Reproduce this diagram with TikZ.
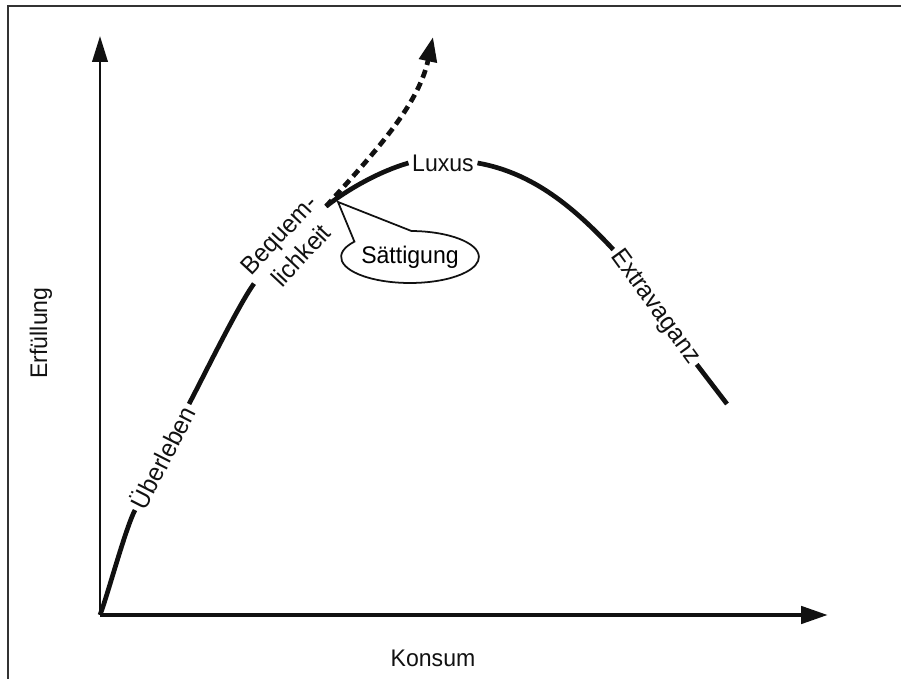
\documentclass[tikz,border=0pt]{standalone}
\usepackage{fontspec}
\setmainfont{Liberation Sans}[FakeStretch=0.96]
\usetikzlibrary{arrows.meta, positioning, shapes.geometric, shapes.callouts}
\definecolor{rim}{HTML}{333333}
\definecolor{ink}{HTML}{111111}
\tikzset{
  curve/.style={line width=4pt, draw=ink},
  axis/.style={-{Triangle[length=22pt,width=13pt]}, line width=2.3pt, draw=ink},
  baseaxis/.style={-{Triangle[length=23pt,width=14.5pt]}, line width=4pt, draw=ink},
  stage/.style={font=\fontsize{20.5}{23}\selectfont, text=ink, inner sep=3pt, align=center},
  slopedstage/.style={stage, font=\fontsize{21.5}{26}\selectfont},
  future/.style={-{Triangle[length=21pt,width=15pt]}, line width=4pt, draw=ink,
                 dash pattern=on 7pt off 4.5pt},
  bubble/.style={ellipse callout, draw=ink, line width=1.5pt, fill=white,
                 inner sep=0pt, minimum width=37.2mm, minimum height=15.6mm,
                 callout pointer arc=55, font=\fontsize{20.5}{23}\selectfont},
}
\begin{document}
\begin{tikzpicture}[x=0.3mm, y=0.3mm]
  \useasboundingbox (0,0) rectangle (901,679);
  \draw[rim, line width=1.6pt] (8,673) rectangle (940,-40);

  % axes
  \coordinate (o) at (100,64);
  \coordinate (ytip) at (100,643);
  \coordinate (xtip) at (828,64);
  \draw[axis] (o) -- (ytip);
  \draw[baseaxis] (o) -- (xtip);
  \node[stage, rotate=90] (erf) at (41,346) {Erfüllung};
  \node[stage] (kon) at (433,21) {Konsum};

  % stages along the curve
  \node[slopedstage, rotate=63] (ueb) at (162,222) {Überleben};
  \node[slopedstage, rotate=47] (beq) at (290,434) {Bequem-\\lichkeit};
  \node[stage] (lux) at (443,516) {Luxus};
  \node[slopedstage, rotate=-54] (ext) at (655,372) {Extravaganz};
  \coordinate (end) at (727,275);
  \coordinate (satt) at (338,477);
  \coordinate (dtip) at (433,642);

  \node[bubble, callout absolute pointer={(satt)}] (sat) at (410,422) {Sättigung};

  \draw[curve] (o) to[out=69, in=243, looseness=0.5] (ueb.west);
  \draw[curve] (ueb.east) to[out=62, in=234, looseness=0.5] (beq.west);
  \draw[curve] (beq.east) to[out=38, in=196, looseness=0.8] (lux.west);
  \draw[curve] (lux.east) to[out=-10, in=133, looseness=0.9] (ext.west);
  \draw[curve] (ext.east) -- (end);

  % growth beyond saturation
  \draw[future] (beq.east) to[out=48, in=-102, looseness=0.9] (dtip);
\end{tikzpicture}
\end{document}
